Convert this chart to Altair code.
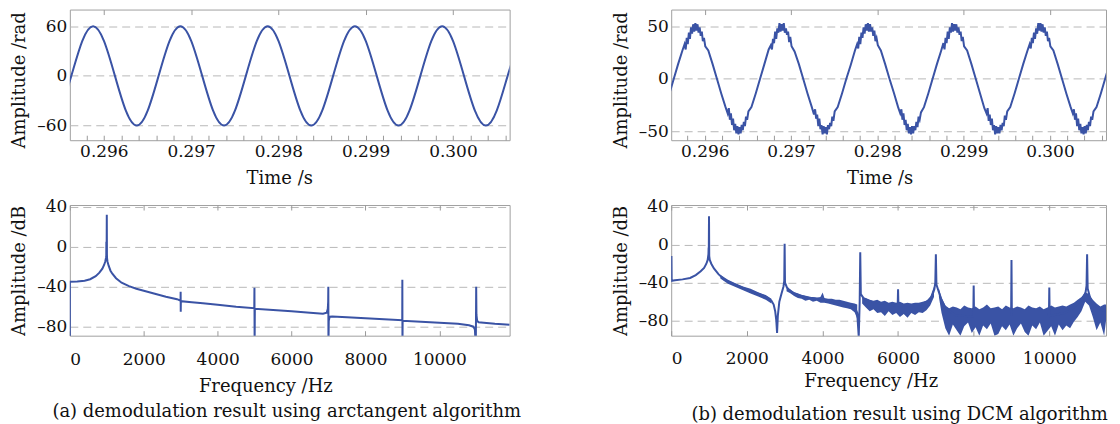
import altair as alt
import pandas as pd

BLUE = "#3a53a5"
FONT = "DejaVu Serif"

# ---------------- (a) top: arctangent demodulation, time domain ----------------
atan_t = [0.295502, 0.295627, 0.295752, 0.295877, 0.296002, 0.296127, 0.296252, 0.296377, 0.296502,
          0.296627, 0.296752, 0.296877, 0.297002, 0.297127, 0.297252, 0.297377, 0.297502,
          0.297627, 0.297752, 0.297877, 0.298002, 0.298127, 0.298252, 0.298377, 0.298502,
          0.298627, 0.298752, 0.298877, 0.299002, 0.299127, 0.299252, 0.299377, 0.299502,
          0.299627, 0.299752, 0.299877, 0.300002, 0.300127, 0.300252, 0.300377, 0.300502,
          0.300627, 0.300752]
atan_v = [-42, 0, 42, 60, 42, 0, -42, -60, -42,
          0, 42, 60, 42, 0, -42, -60, -42,
          0, 42, 60, 42, 0, -42, -60, -42,
          0, 42, 60, 42, 0, -42, -60, -42,
          0, 42, 60, 42, 0, -42, -60, -42,
          0, 42]

# ---------------- (b) top: DCM demodulation, time domain ----------------
dcm_t = [0.295550, 0.295600,
         0.295640, 0.295690, 0.295740, 0.295765, 0.295778, 0.295790, 0.295802, 0.295815, 0.295827, 0.295840,
         0.295852, 0.295865, 0.295877, 0.295890, 0.295902, 0.295915, 0.295927, 0.295940, 0.295952, 0.295965,
         0.295977, 0.295990, 0.296005, 0.296040, 0.296090, 0.296140, 0.296190, 0.296240, 0.296265, 0.296278,
         0.296290, 0.296302, 0.296315, 0.296327, 0.296340, 0.296352, 0.296365, 0.296377, 0.296390, 0.296402,
         0.296415, 0.296427, 0.296440, 0.296452, 0.296465, 0.296477, 0.296490, 0.296505, 0.296540, 0.296590,
         0.296640, 0.296690, 0.296740, 0.296765, 0.296778, 0.296790, 0.296802, 0.296815, 0.296827, 0.296840,
         0.296852, 0.296865, 0.296877, 0.296890, 0.296902, 0.296915, 0.296927, 0.296940, 0.296952, 0.296965,
         0.296977, 0.296990, 0.297005, 0.297040, 0.297090, 0.297140, 0.297190, 0.297240, 0.297265, 0.297278,
         0.297290, 0.297302, 0.297315, 0.297327, 0.297340, 0.297352, 0.297365, 0.297377, 0.297390, 0.297402,
         0.297415, 0.297427, 0.297440, 0.297452, 0.297465, 0.297477, 0.297490, 0.297505, 0.297540, 0.297590,
         0.297640, 0.297690, 0.297740, 0.297765, 0.297778, 0.297790, 0.297802, 0.297815, 0.297827, 0.297840,
         0.297852, 0.297865, 0.297877, 0.297890, 0.297902, 0.297915, 0.297927, 0.297940, 0.297952, 0.297965,
         0.297977, 0.297990, 0.298005, 0.298040, 0.298090, 0.298140, 0.298190, 0.298240, 0.298265, 0.298278,
         0.298290, 0.298302, 0.298315, 0.298327, 0.298340, 0.298352, 0.298365, 0.298377, 0.298390, 0.298402,
         0.298415, 0.298427, 0.298440, 0.298452, 0.298465, 0.298477, 0.298490, 0.298505, 0.298540, 0.298590,
         0.298640, 0.298690, 0.298740, 0.298765, 0.298778, 0.298790, 0.298802, 0.298815, 0.298827, 0.298840,
         0.298852, 0.298865, 0.298877, 0.298890, 0.298902, 0.298915, 0.298927, 0.298940, 0.298952, 0.298965,
         0.298977, 0.298990, 0.299005, 0.299040, 0.299090, 0.299140, 0.299190, 0.299240, 0.299265, 0.299278,
         0.299290, 0.299302, 0.299315, 0.299327, 0.299340, 0.299352, 0.299365, 0.299377, 0.299390, 0.299402,
         0.299415, 0.299427, 0.299440, 0.299452, 0.299465, 0.299477, 0.299490, 0.299505, 0.299540, 0.299590,
         0.299640, 0.299690, 0.299740, 0.299765, 0.299778, 0.299790, 0.299802, 0.299815, 0.299827, 0.299840,
         0.299852, 0.299865, 0.299877, 0.299890, 0.299902, 0.299915, 0.299927, 0.299940, 0.299952, 0.299965,
         0.299977, 0.299990, 0.300005, 0.300040, 0.300090, 0.300140, 0.300190, 0.300240, 0.300265, 0.300278,
         0.300290, 0.300302, 0.300315, 0.300327, 0.300340, 0.300352, 0.300365, 0.300377, 0.300390, 0.300402,
         0.300415, 0.300427, 0.300440, 0.300452, 0.300465, 0.300477, 0.300490, 0.300505, 0.300540, 0.300590,
         0.300640, 0.300690]
dcm_v = [-24, -11,
         0, 14, 27, 33, 28, 39, 33, 44, 38, 49, 43, 52, 45, 53, 46, 52, 44, 49, 41, 45, 36, 39, 31, 27, 14,
         0, -14, -27, -33, -28, -39, -33, -44, -38, -49, -43, -52, -45, -53, -46, -52, -44, -49, -41, -45, -36, -39, -31, -27, -14,
         0, 14, 28, 32, 28, 38, 34, 45, 38, 48, 44, 53, 45, 52, 46, 53, 44, 48, 42, 45, 35, 40, 31, 26, 14,
         0, -14, -27, -34, -29, -38, -34, -45, -38, -48, -44, -53, -45, -52, -46, -53, -44, -48, -42, -45, -36, -40, -31, -27, -14,
         0, 13, 27, 33, 29, 40, 33, 44, 39, 49, 43, 52, 46, 53, 45, 52, 45, 49, 41, 46, 36, 39, 32, 27, 14,
         0, -13, -27, -33, -29, -39, -33, -44, -39, -49, -43, -52, -46, -53, -45, -52, -45, -49, -41, -46, -36, -39, -32, -27, -14,
         0, 14, 27, 34, 28, 39, 34, 45, 38, 49, 44, 53, 45, 52, 46, 52, 44, 49, 42, 45, 36, 40, 31, 27, 14,
         0, -14, -28, -33, -28, -40, -34, -44, -38, -49, -44, -53, -45, -52, -46, -52, -44, -49, -42, -45, -35, -39, -31, -27, -14,
         0, 14, 27, 33, 29, 39, 34, 44, 38, 48, 43, 53, 46, 53, 45, 52, 44, 49, 41, 45, 36, 39, 31, 27, 14,
         0, -14, -27, -33, -29, -39, -33, -45, -38, -49, -43, -52, -46, -53, -45, -52, -44, -49, -41, -45, -36, -39, -31, -27, -14,
         0, 14]

# ---------------- (a) bottom: arctangent spectrum ----------------
atan_f = [0, 1, 200, 400, 550, 700, 800, 880, 930, 960, 980, 986, 988, 990, 995, 1000, 1004, 1008,
          1020, 1050, 1100, 1150, 1250, 1400, 1600, 1800, 2000, 2300, 2600, 2900, 2996, 2998, 3001, 3004,
          3300, 3600, 4000, 4500, 4990, 4995, 5000, 5006, 5500, 6000, 6500, 6850, 6950, 6980, 6990, 6994,
          6998, 7006, 7030, 7100, 7500, 8000, 8500, 8994, 8997, 9000, 9005, 9500, 10000, 10500, 10800,
          10920, 10960, 10985, 10995, 11002, 11020, 11060, 11200, 11500, 11900]
atan_db = [-100, -35, -34.8, -34, -32.5, -29.5, -26, -22, -18, -14.5, -11, -9, 5, -8, -10, 32, -8, -12,
           -15, -19, -24, -27, -31.5, -36, -39.5, -42, -44, -47, -50, -52.5, -54, -45, -65, -54.5,
           -55.5, -56.5, -58, -60, -61.5, -41, -100, -62, -63.2, -64.5, -66, -67, -66, -62, -55, -40,
           -100, -74, -70, -69.7, -70.5, -71.5, -72.5, -73.5, -33, -100, -74, -75, -76, -77, -78.5,
           -80, -83, -100, -40, -68, -74, -75.5, -76, -77, -78]

# ---------------- (b) bottom: DCM spectrum ----------------
dcm_f = [0, 6, 12, 100, 300, 500, 650, 780, 870, 930, 965, 985, 990, 994, 1000, 1006, 1020, 1060, 1130,
         1250, 1400, 1600, 1800, 2050, 2370, 2550, 2650, 2710, 2750, 2780, 2800, 2820, 2860, 2920, 2970,
         2990, 3000, 3010, 3060, 3150, 3350, 3700, 3950, 4000, 4040, 4400, 4700, 4850, 4920, 4960, 4985,
         5000, 5015, 5100, 5300, 5700, 5990, 6000, 6010, 6300, 6600, 6800, 6900, 6960, 6985, 7000, 7015,
         7080, 7150, 7250, 7500, 7990, 8000, 8010, 8990, 9000, 9010, 9990, 10000, 10010, 10400, 10600,
         10750, 10880, 10960, 10985, 11000, 11015, 11080, 11200, 11350, 11500]
dcm_db = [-37, -12, -38, -37.5, -36.5, -35, -32, -28, -24.5, -20, -16, -10, -3, -12, 30, -12, -16, -20, -25,
          -31, -36.5, -40.5, -44, -48, -52.5, -56, -59, -63, -70, -80, -93, -75, -60, -51, -44,
          -38, 1, -40, -45, -49, -53, -56, -57, -53, -58, -60, -63, -65, -72, -97, -60,
          -8, -52, -57, -60, -63, -64, -47, -64, -64, -63, -59, -54, -47, -40, -10, -42,
          -50, -58, -66, -74, -76, -43, -76, -76, -16, -76, -76, -45, -75, -72, -68,
          -62, -57, -50, -43, -10, -46, -56, -64, -68, -70]

# noise band of the DCM spectrum (segment id, frequency, lower and upper edge)
band_seg = ["s0"] * 8 + ["sA"] * 20 + ["sB"] * 20 + ["sC"] * 46
band_f = [1300, 1500, 1700, 1900, 2100, 2300, 2500, 2650,
          3050, 3150, 3250, 3350, 3450, 3550, 3650, 3750, 3850, 3950, 4050, 4150, 4250, 4350, 4450, 4550,
          4650, 4750, 4850, 4920,
          5050, 5150, 5250, 5350, 5450, 5550, 5650, 5750, 5850, 5950, 6050, 6150, 6250, 6350, 6450, 6550,
          6650, 6750, 6850, 6950,
          7080, 7150, 7250, 7350, 7450, 7550, 7650, 7750, 7850, 7950, 8050, 8150, 8250, 8350, 8450, 8550,
          8650, 8750, 8850, 8950, 9050, 9150, 9250, 9350, 9450, 9550, 9650, 9750, 9850, 9950, 10050, 10150,
          10250, 10350, 10450, 10550, 10650, 10750, 10850, 10950, 11050, 11150, 11250, 11350, 11450, 11500]
band_lo = [-35.5, -41, -44.5, -48, -51.5, -54.5, -58, -62,
           -49, -51, -54, -56, -57, -59, -58, -60, -59, -61, -61, -62, -63, -64, -65, -66,
           -67, -68, -71, -78,
           -62, -66, -70, -68, -72, -71, -75, -70, -74, -72, -76, -73, -77, -72, -74, -71,
           -72, -69, -64, -55,
           -55, -72, -88, -96, -84, -90, -96, -86, -82, -93, -87, -96, -85, -89, -83, -96,
           -94, -86, -90, -84, -96, -88, -83, -92, -96, -85, -89, -82, -96, -91, -86, -96,
           -84, -90, -85, -88, -81, -76, -70, -60, -64, -76, -90, -82, -96, -80]
band_hi = [-31.5, -37, -40.5, -44, -46.5, -50, -53, -57,
           -45, -47, -50, -51, -53, -54, -55, -55, -56, -55, -56, -57, -57, -58, -58, -59,
           -60, -61, -62, -63,
           -55, -56, -58, -59, -58, -60, -59, -61, -60, -61, -60, -62, -61, -62, -61, -61,
           -60, -59, -55, -44,
           -46, -56, -64, -67, -65, -66, -68, -64, -66, -67, -65, -68, -66, -63, -67, -66,
           -65, -68, -64, -66, -67, -65, -66, -68, -64, -66, -67, -65, -68, -66, -64, -66,
           -65, -64, -65, -63, -61, -58, -55, -50, -52, -58, -62, -65, -63, -63]

# axis tick positions and labels
time_ticks = [0.2958, 0.296, 0.2962, 0.2964, 0.2966, 0.2968, 0.297, 0.2972, 0.2974, 0.2976, 0.2978,
              0.298, 0.2982, 0.2984, 0.2986, 0.2988, 0.299, 0.2992, 0.2994, 0.2996, 0.2998, 0.3,
              0.3002, 0.3004, 0.3006]
time_major = [0.296, 0.297, 0.298, 0.299, 0.3]
freq_ticks = [0, 2000, 4000, 6000, 8000, 10000]
db_ticks = [-80, -60, -40, -20, 0, 20, 40]

captions = ["(a) demodulation result using arctangent algorithm",
            "(b) demodulation result using DCM algorithm"]

H = 131
TIME_DOMAIN = [0.29561, 0.30065]
DASH_LABEL = "replace(datum.label, '\u2212', '\u2013')"


def time_panel(t, v, width, ydom, yvals, interp, title_x):
    df = pd.DataFrame({"t": t, "v": v})
    xs = alt.Scale(domain=TIME_DOMAIN, nice=False, zero=False)
    ys = alt.Scale(domain=ydom, nice=False, zero=False)
    line = alt.Chart(df).mark_line(color=BLUE, strokeWidth=2, interpolate=interp, clip=True).encode(
        x=alt.X("t:Q", scale=xs,
                axis=alt.Axis(values=time_ticks, offset=-5, tickSize=5, labelPadding=3,
                              labelExpr="abs(datum.value*1000 - round(datum.value*1000)) < 0.01 ? format(datum.value, '.3f') : ''",
                              title="Time /s", titlePadding=10, titleX=title_x,
                              grid=False, domain=False)),
        y=alt.Y("v:Q", scale=ys,
                axis=alt.Axis(values=yvals, labelExpr=DASH_LABEL, title="Amplitude /rad", grid=True,
                              ticks=False, labelPadding=3, titlePadding=8, titleY=H / 2 + 5,
                              domain=False)),
    )
    top = alt.Chart(df).mark_line(strokeOpacity=0).encode(
        x=alt.X("t:Q", scale=xs,
                axis=alt.Axis(orient="top", values=time_major, labels=False, offset=-5, tickSize=5,
                              title=None, grid=False, domain=False, minExtent=0, maxExtent=0)),
        y=alt.Y("v:Q", scale=ys),
    )
    return alt.layer(line, top).resolve_axis(x="independent").properties(width=width, height=H)


def spec_panel(line_df, width, xmax, ydom, caption, lab_pad, title_pad, title_x, cap_off, cap_dx,
               band_df=None):
    xs = alt.Scale(domain=[0, xmax], nice=False, zero=False)
    ys = alt.Scale(domain=ydom, nice=False, zero=False)
    xax = alt.Axis(values=freq_ticks, format="d", offset=-5, tickSize=5, labelPadding=lab_pad,
                   title="Frequency /Hz", titlePadding=title_pad, titleX=title_x,
                   grid=False, domain=False)
    yax = alt.Axis(values=db_ticks,
                   labelExpr="datum.value % 40 == 0 ? " + DASH_LABEL + " : ''",
                   title="Amplitude /dB", grid=True, ticks=False, labelPadding=3, titlePadding=8,
                   domain=False)
    layers = []
    if band_df is not None:
        layers.append(alt.Chart(band_df).mark_area(color=BLUE, orient="vertical", clip=True,
                                                    opacity=1).encode(
            x=alt.X("f:Q", scale=xs, axis=None),
            y=alt.Y("lo:Q", scale=ys, axis=yax),
            y2="hi:Q",
            detail="seg:N",
        ))
    layers.append(alt.Chart(line_df).mark_line(color=BLUE, strokeWidth=2, clip=True).encode(
        x=alt.X("f:Q", scale=xs, axis=xax),
        y=alt.Y("db:Q", scale=ys, axis=yax),
    ))
    layers.append(alt.Chart(line_df).mark_line(strokeOpacity=0).encode(
        x=alt.X("f:Q", scale=xs,
                axis=alt.Axis(orient="top", values=freq_ticks, labels=False, offset=-5, tickSize=5,
                              title=None, grid=False, domain=False, minExtent=0, maxExtent=0)),
        y=alt.Y("db:Q", scale=ys),
    ))
    return alt.layer(*layers).resolve_axis(x="independent").properties(
        width=width, height=H,
        title=alt.TitleParams(caption, orient="bottom", anchor="middle", frame="group",
                              offset=cap_off, dx=cap_dx))


tl = time_panel(atan_t, atan_v, 441, [-77.6, 80], [-60, 0, 60], "natural", 210)
tr = time_panel(dcm_t, dcm_v, 436, [-58.5, 66], [-50, 0, 50], "linear", 209)

atan_df = pd.DataFrame({"f": atan_f, "db": atan_db})
dcm_df = pd.DataFrame({"f": dcm_f, "db": dcm_db})
band_df = pd.DataFrame({"seg": band_seg, "f": band_f, "lo": band_lo, "hi": band_hi})

bl = spec_panel(atan_df, 441, 11900, [-89, 41.7], captions[0], 16, 10, 196, 8, -3)
br = spec_panel(dcm_df, 436, 11500, [-95.8, 41.8], captions[1], 15, 6, 200, 16, 11, band_df)

left = alt.vconcat(tl, bl, spacing=9)
right = alt.vconcat(tr, br, spacing=9)

chart = alt.hconcat(left, right, spacing=89).properties(
    padding={"left": 2, "top": 0, "right": 2, "bottom": 0}
).configure_view(
    stroke="#a0a0a0", strokeWidth=1
).configure_axis(
    labelFont=FONT, titleFont=FONT, labelFontSize=17, titleFontSize=18,
    titleFontWeight="normal", labelColor="#111111", titleColor="#111111",
    gridColor="#b8b8b8", gridDash=[8, 5], gridWidth=1, tickColor="#9a9a9a", tickWidth=1,
).configure_title(
    font=FONT, fontSize=18, fontWeight="normal", color="#111111"
)

chart.save("out.html", embed_options={"renderer": "svg", "actions": False})
